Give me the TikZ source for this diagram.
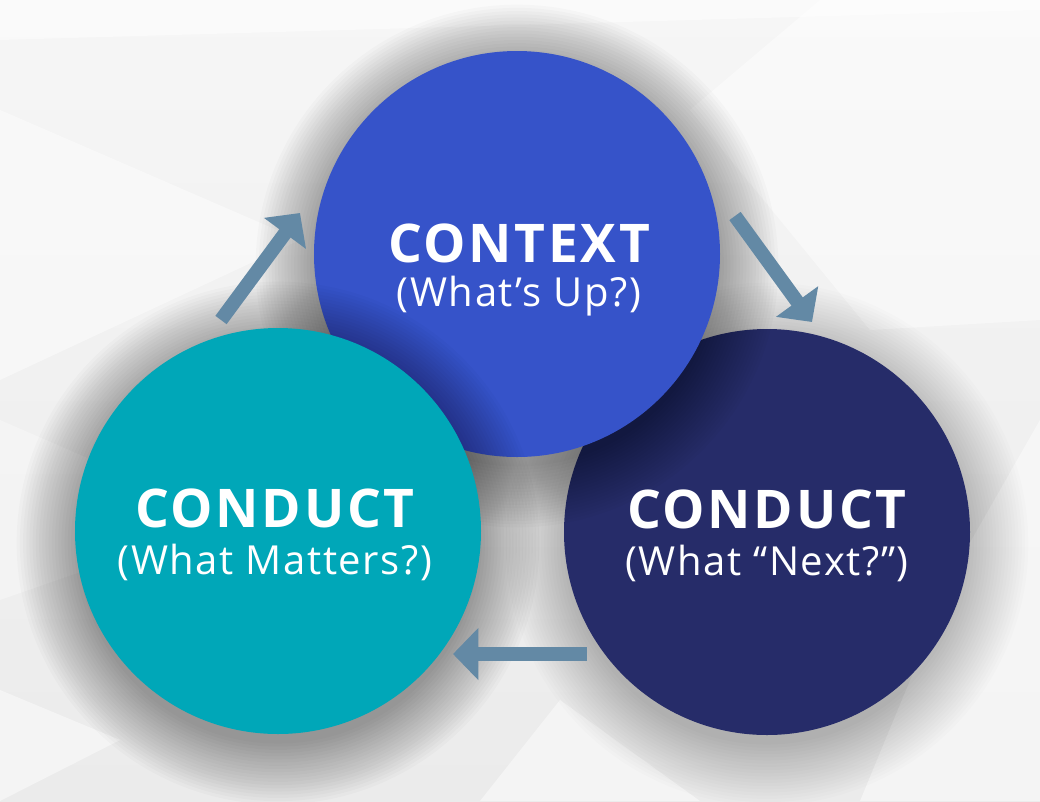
\documentclass[tikz,border=0pt]{standalone}
\usepackage{fontspec}
\setmainfont{Open Sans}
\usetikzlibrary{arrows.meta}
\definecolor{ctxblue}{HTML}{3653C9}
\definecolor{cteal}{HTML}{00A7B8}
\definecolor{cnavy}{HTML}{262C69}
\definecolor{carrow}{HTML}{6389A5}
\definecolor{bgtop}{HTML}{F6F6F6}
\definecolor{bgbot}{HTML}{EBEBEB}
\tikzset{
  circ/.style={circle, inner sep=0pt, minimum size=304.5pt},
  ttl/.style={text=white, anchor=base, font=\fontsize{40}{44}\selectfont\bfseries\addfontfeatures{LetterSpace=5}},
  sub/.style={text=white, anchor=base, font=\fontsize{30}{34}\selectfont\addfontfeatures{LetterSpace=4}},
  flow/.style={draw=carrow, line width=10.5pt, -{Triangle[width=38pt,length=19pt]}},
  plane/.style={fill=white, opacity=0.45},
}
\begin{document}
\begin{tikzpicture}[x=0.75pt,y=-0.75pt]
\useasboundingbox (0,0) rectangle (1040,801);
% background
\shade[top color=bgtop, bottom color=bgbot] (0,0) rectangle (1040,801);
\fill[plane] (0,0) -- (1040,0) -- (1040,10) -- (0,40) -- cycle;
\fill[plane] (690,110) -- (820,0) -- (1040,0) -- (1040,320) -- (870,330) -- cycle;
\fill[plane] (0,110) -- (300,240) -- (0,380) -- cycle;
\fill[plane] (1040,420) -- (1040,801) -- (860,801) -- (960,560) -- cycle;
\fill[plane] (0,690) -- (120,740) -- (0,801) -- cycle;
\fill[plane] (480,801) -- (560,700) -- (700,801) -- cycle;
\fill[white, opacity=0.3] (0,420) -- (230,520) -- (0,600) -- cycle;
% circle positions
\coordinate (pn) at (767,532);
\coordinate (pb) at (517,254);
\coordinate (pt) at (278,531);
% navy circle
\foreach \k in {1,...,20} \fill[black, opacity=0.013] ([yshift=-9pt]pn) circle (148pt+\k*2.4pt);
\node[circ, fill=cnavy] (next) at (pn) {};
% blue circle
\foreach \k in {1,...,20} \fill[black, opacity=0.02] ([yshift=-9pt]pb) circle (148pt+\k*2.4pt);
\node[circ, fill=ctxblue] (context) at (pb) {};
% teal circle
\foreach \k in {1,...,20} \fill[black, opacity=0.02] ([yshift=-9pt]pt) circle (148pt+\k*2.4pt);
\node[circ, fill=cteal] (matters) at (pt) {};
% texts
\node[ttl] (t1) at (519,262) {CONTEXT};
\node[sub] (s1) at (519,306) {(What’s Up?)};
\node[ttl] (t2) at (275,527) {CONDUCT};
\node[sub] (s2) at (275,574) {(What Matters?)};
\node[ttl] (t3) at (767,528) {CONDUCT};
\node[sub] (s3) at (767,575) {(What “Next?”)};
% arrows
\coordinate (a1s) at (221,320);
\coordinate (a1e) at (300,213);
\coordinate (a2s) at (735,216);
\coordinate (a2e) at (812,322);
\coordinate (a3s) at (587,654);
\coordinate (a3e) at (453,654);
\draw[flow] (a1s) -- (a1e);
\draw[flow] (a2s) -- (a2e);
\draw[flow] (a3s) -- (a3e);
\end{tikzpicture}
\end{document}
